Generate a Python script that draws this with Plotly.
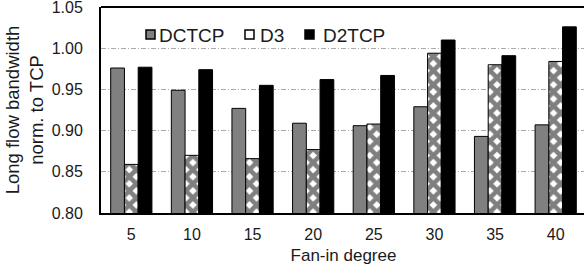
import plotly.graph_objects as go

categories = ["5", "10", "15", "20", "25", "30", "35", "40"]
series_names = ["DCTCP", "D3", "D2TCP"]
dctcp = [0.976, 0.949, 0.927, 0.909, 0.906, 0.929, 0.893, 0.907]
d3 = [0.859, 0.870, 0.866, 0.877, 0.908, 0.994, 0.980, 0.984]
d2tcp = [0.977, 0.974, 0.955, 0.962, 0.967, 1.010, 0.991, 1.026]
y_ticks = [0.80, 0.85, 0.90, 0.95, 1.00, 1.05]

FONT = "Liberation Sans, Arial, sans-serif"
GRAY = "#808080"
TXT = "#1a1a1a"

W, H = 600, 267
# plot area in pixels (for placing the in-plot legend)
L, R, T, B = 101, 586, 7, 213
def px_x(p):
    return (p - L) / (R - L)
def px_y(p):
    return (B - p) / (B - T)

fig = go.Figure()
fig.add_trace(go.Bar(name=series_names[0], x=categories, y=dctcp,
                     marker=dict(color=GRAY, line=dict(color="black", width=1))))
fig.add_trace(go.Bar(name=series_names[1], x=categories, y=d3,
                     marker=dict(color="white", line=dict(color="black", width=1),
                                 pattern=dict(shape="x", fgcolor="black", bgcolor="white",
                                              size=10, solidity=0.7))))
fig.add_trace(go.Bar(name=series_names[2], x=categories, y=d2tcp,
                     marker=dict(color="black", line=dict(color="black", width=1))))

# legend (drawn inside plot, Excel-like)
shapes = [
    dict(type="rect", xref="paper", yref="paper", layer="between",
         x0=px_x(123), x1=px_x(386), y0=px_y(55), y1=px_y(18),
         fillcolor="white", line=dict(width=0)),
    dict(type="line", xref="paper", yref="paper", x0=0, x1=1, y0=1, y1=1,
         line=dict(color="black", width=2)),
]
legend_items = [
    (146, 157, GRAY),
    (245, 258, "white"),
    (305, 321, "black"),
]
annotations = []
for (sx, tx, col), name in zip(legend_items, series_names):
    shapes.append(dict(type="rect", xref="paper", yref="paper", layer="above",
                       x0=px_x(sx), x1=px_x(sx + 9), y0=px_y(39), y1=px_y(30),
                       fillcolor=col, line=dict(color="black", width=1.5)))
    annotations.append(dict(text=name, xref="paper", yref="paper", x=px_x(tx), y=px_y(35.5),
                            xanchor="left", yanchor="middle", showarrow=False,
                            font=dict(size=19, color=TXT, family=FONT)))

fig.update_layout(
    width=W, height=H,
    margin=dict(l=L, r=W - R, t=T, b=H - B, autoexpand=False),
    paper_bgcolor="white", plot_bgcolor="white",
    barmode="group", bargap=0.32, bargroupgap=0,
    font=dict(family=FONT, size=16, color=TXT),
    showlegend=False,
    xaxis=dict(showline=True, linecolor="black", linewidth=2, ticks="", automargin=False,
               ticklabelstandoff=6,
               title=dict(text="Fan-in degree", font=dict(size=17), standoff=7),
               tickfont=dict(size=16)),
    yaxis=dict(range=[0.80, 1.0501], tickvals=y_ticks, automargin=False,
               ticktext=[f"{v:.2f}" for v in y_ticks], ticklabeloverflow="allow",
               ticklabelstandoff=13,
               showline=True, linecolor="black", linewidth=2, ticks="",
               showgrid=True, gridcolor="#aaa", griddash="5px,2px,1px,2px", gridwidth=1,
               zeroline=False,
               title=dict(text="Long flow bandwidth<br>norm. to TCP", font=dict(size=18.5), standoff=3),
               tickfont=dict(size=16)),
    shapes=shapes,
    annotations=annotations,
)

fig.write_html("out.html", config={"displayModeBar": False},
               post_script="document.body.style.margin='0';document.body.style.overflow='hidden';"
                           "document.documentElement.style.overflow='hidden';")
